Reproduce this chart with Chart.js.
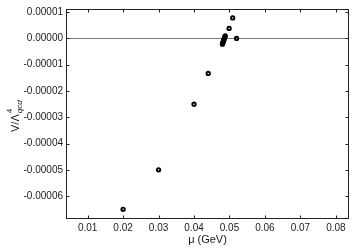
<!DOCTYPE html>
<html><head><meta charset="utf-8">
<script src="https://cdn.jsdelivr.net/npm/chart.js@4"></script>
<style>html,body{margin:0;padding:0;background:#fff}#wrap{width:354px;height:251px}</style>
</head><body><div id="wrap"><canvas id="c" width="354" height="251"></canvas></div>
<script>
const muValues = [0.02, 0.03, 0.04, 0.044, 0.0480, 0.0481, 0.0482, 0.0483, 0.0484, 0.0485, 0.0486, 0.0487, 0.0488, 0.0499, 0.0509, 0.0520];
const vValues  = [-0.000065, -0.00005, -0.000025, -0.0000133, -0.0000022, -0.0000018, -0.0000014, -0.0000010, -0.0000006, -0.0000002, 0.0000002, 0.0000006, 0.0000010, 0.0000038, 0.0000078, 0.0];
const xTicks = [0.01, 0.02, 0.03, 0.04, 0.05, 0.06, 0.07, 0.08];
const xTickLabels = ["0.01", "0.02", "0.03", "0.04", "0.05", "0.06", "0.07", "0.08"];
const yTicks = [-0.00006, -0.00005, -0.00004, -0.00003, -0.00002, -0.00001, 0, 0.00001];
const yTickLabels = ["-0.00006", "-0.00005", "-0.00004", "-0.00003", "-0.00002", "-0.00001", "0.00000", "0.00001"];
const xTitle = "μ (GeV)";
const yTitleMain = "V/Λ";
const yTitleSup = "4";
const yTitleSub = "qcd";

const FONT = "'Liberation Sans', Arial, sans-serif";
const INK = '#1a1a1a';

const framePlugin = {
  id: 'frame',
  beforeDatasetsDraw(chart) {
    const { ctx, chartArea: a, scales: { y } } = chart;
    const y0 = Math.round(y.getPixelForValue(0)) + 0.5;
    ctx.save();
    ctx.strokeStyle = '#7a7a7a';
    ctx.lineWidth = 1;
    ctx.beginPath();
    ctx.moveTo(a.left, y0);
    ctx.lineTo(a.right, y0);
    ctx.stroke();
    ctx.restore();
  },
  afterDraw(chart) {
    const { ctx, chartArea: a, scales: { x, y } } = chart;
    const L = Math.round(a.left) + 0.5, R = Math.round(a.right) - 0.5;
    const T = Math.round(a.top) + 0.5, B = Math.round(a.bottom) - 0.5;
    ctx.save();
    ctx.strokeStyle = '#222';
    ctx.lineWidth = 1;
    ctx.strokeRect(L, T, R - L, B - T);
    const tl = 3;
    ctx.beginPath();
    x.ticks.forEach(t => {
      const px = Math.round(x.getPixelForValue(t.value)) + 0.5;
      ctx.moveTo(px, B); ctx.lineTo(px, B - tl);
      ctx.moveTo(px, T); ctx.lineTo(px, T + tl);
    });
    y.ticks.forEach(t => {
      const py = Math.round(y.getPixelForValue(t.value)) + 0.5;
      ctx.moveTo(L, py); ctx.lineTo(L + tl, py);
      ctx.moveTo(R, py); ctx.lineTo(R - tl, py);
    });
    ctx.stroke();

    // y-axis title with superscript and subscript
    ctx.fillStyle = INK;
    ctx.translate(19, 132);
    ctx.rotate(-Math.PI / 2);
    ctx.textBaseline = 'alphabetic';
    ctx.textAlign = 'left';
    ctx.font = '11px ' + FONT;
    ctx.fillText(yTitleMain, 0, 0);
    const w = ctx.measureText(yTitleMain).width;
    ctx.font = '8px ' + FONT;
    ctx.fillText(yTitleSup, w + 1, -7);
    ctx.font = 'italic 8px ' + FONT;
    ctx.fillText(yTitleSub, w + 1, 3);
    ctx.restore();
  }
};

new Chart(document.getElementById('c'), {
  type: 'scatter',
  data: {
    datasets: [{
      data: muValues.map((m, i) => ({ x: m, y: vValues[i] })),
      pointRadius: 1.7,
      pointHoverRadius: 1.7,
      pointBorderWidth: 1.9,
      pointBorderColor: '#000',
      pointBackgroundColor: 'rgba(255,255,255,0)',
      showLine: false
    }]
  },
  options: {
    responsive: false,
    animation: false,
    devicePixelRatio: 1,
    layout: { padding: { top: 5, right: 5, left: 0, bottom: 0 } },
    plugins: { legend: { display: false }, tooltip: { enabled: false } },
    scales: {
      x: {
        type: 'linear',
        min: 0.0039,
        max: 0.0837,
        afterBuildTicks: s => { s.ticks = xTicks.map(v => ({ value: v })); },
        afterFit: s => { s.height = 32; },
        grid: { display: false, drawTicks: false },
        border: { display: false },
        ticks: {
          padding: 3,
          color: INK,
          font: { family: FONT, size: 10 },
          maxRotation: 0,
          autoSkip: false,
          callback: (v, i) => xTickLabels[i]
        },
        title: {
          display: true,
          text: xTitle,
          color: INK,
          font: { family: FONT, size: 11 },
          padding: { top: 0, bottom: 4 }
        }
      },
      y: {
        type: 'linear',
        min: -0.0000687,
        max: 0.0000112,
        afterBuildTicks: s => { s.ticks = yTicks.map(v => ({ value: v })); },
        afterFit: s => { s.width = 66; },
        grid: { display: false, drawTicks: false },
        border: { display: false },
        ticks: {
          padding: 3,
          color: INK,
          font: { family: FONT, size: 10 },
          autoSkip: false,
          callback: (v, i) => yTickLabels[i]
        }
      }
    }
  },
  plugins: [framePlugin]
});
</script>
</body></html>
